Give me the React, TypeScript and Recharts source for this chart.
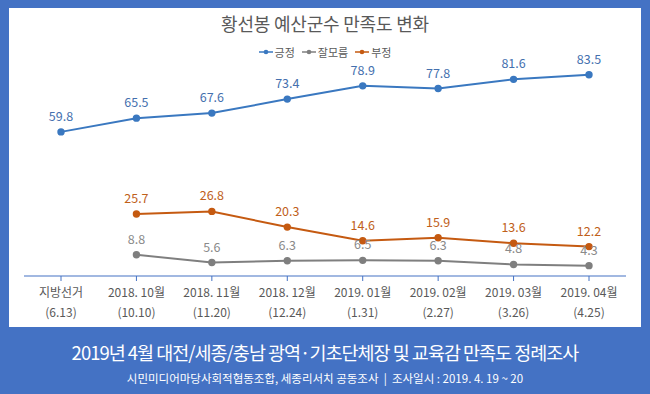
import React from 'react';
import { LineChart, Line, XAxis, YAxis, LabelList } from 'recharts';

const months = ['지방선거', '2018. 10월', '2018. 11월', '2018. 12월', '2019. 01월', '2019. 02월', '2019. 03월', '2019. 04월'];
const surveyDates = ['(6.13)', '(10.10)', '(11.20)', '(12.24)', '(1.31)', '(2.27)', '(3.26)', '(4.25)'];
const positive = [59.8, 65.5, 67.6, 73.4, 78.9, 77.8, 81.6, 83.5];
const unsure = [null, 8.8, 5.6, 6.3, 6.5, 6.3, 4.8, 4.3];
const negative = [null, 25.7, 26.8, 20.3, 14.6, 15.9, 13.6, 12.2];

const series = [
  { key: 'positive', name: '긍정', color: '#3A78C0', label: '#4470AE' },
  { key: 'unsure', name: '잘모름', color: '#7F7F7F', label: '#8A8A8A' },
  { key: 'negative', name: '부정', color: '#C55A11', label: '#C0601A' },
];

const data = months.map((m, i) => ({
  month: m,
  date: surveyDates[i],
  positive: positive[i],
  unsure: unsure[i],
  negative: negative[i],
}));

const FONT = '"Noto Sans CJK KR", "Noto Sans", sans-serif';
const BLUE = '#4472C4';

const MonthTick = (props: any) => {
  const { x, y, payload } = props;
  const row = data[payload.index];
  return (
    <g transform={`translate(${x},${y})`}>
      <text textAnchor="middle" fill="#595959" fontSize={12} fontFamily={FONT}>
        <tspan x={0} dy={14}>{payload.value}</tspan>
        <tspan x={0} dy={20}>{row ? row.date : ''}</tspan>
      </text>
    </g>
  );
};

const App = () => {
  return (
    <div style={{ position: 'absolute', left: 0, top: 0, width: 650, height: 394, background: BLUE, fontFamily: FONT, overflow: 'hidden' }}>
      <div style={{ position: 'absolute', left: 9, top: 8, width: 632, height: 319, background: '#ffffff' }} />
      <div style={{ position: 'absolute', left: 0, top: 11, width: 650, textAlign: 'center', fontSize: 18, color: '#595959', lineHeight: '24px', letterSpacing: -0.2 }}>
        황선봉 예산군수 만족도 변화
      </div>
      <div style={{ position: 'absolute', left: 0, top: 44, width: 650, display: 'flex', justifyContent: 'center', gap: 7, fontSize: 11, color: '#595959', lineHeight: '16px' }}>
        {series.map((s) => (
          <span key={s.key} style={{ display: 'flex', alignItems: 'center' }}>
            <svg width={14} height={8} style={{ marginRight: 2 }}>
              <line x1={0} y1={4} x2={14} y2={4} stroke={s.color} strokeWidth={1.5} />
              <circle cx={7} cy={4} r={2.3} fill={s.color} />
            </svg>
            {s.name}
          </span>
        ))}
      </div>
      <div style={{ position: 'absolute', left: 0, top: 0 }}>
        <LineChart width={650} height={394} data={data} margin={{ top: 35, right: 24, left: 24, bottom: 78 }}>
          <XAxis
            dataKey="month"
            height={40}
            padding={{ left: 37, right: 37 }}
            axisLine={{ stroke: BLUE, strokeWidth: 1.2 }}
            tickLine={{ stroke: BLUE }}
            tickSize={5}
            interval={0}
            tick={<MonthTick />}
          />
          <YAxis hide domain={[0, 100]} />
          {series.map((s) => (
            <Line
              key={s.key}
              dataKey={s.key}
              name={s.name}
              stroke={s.color}
              strokeWidth={2}
              dot={{ r: 2.7, fill: s.color, stroke: s.color }}
              isAnimationActive={false}
            >
              <LabelList dataKey={s.key} position="top" offset={11} fill={s.label} fontSize={12.5} fontFamily={FONT} />
            </Line>
          ))}
        </LineChart>
      </div>
      <div style={{ position: 'absolute', left: 0, top: 339, width: 650, textAlign: 'center', fontSize: 18.5, color: '#ffffff', lineHeight: '26px', letterSpacing: -1 }}>
        2019년 4월 대전/세종/충남 광역·기초단체장 및 교육감 만족도 정례조사
      </div>
      <div style={{ position: 'absolute', left: 0, top: 370, width: 650, textAlign: 'center', fontSize: 11.5, color: '#ffffff', lineHeight: '16px' }}>
        시민미디어마당사회적협동조합, 세종리서치 공동조사 &nbsp;|&nbsp; 조사일시 : 2019. 4. 19 ~ 20
      </div>
    </div>
  );
};

export default App;
